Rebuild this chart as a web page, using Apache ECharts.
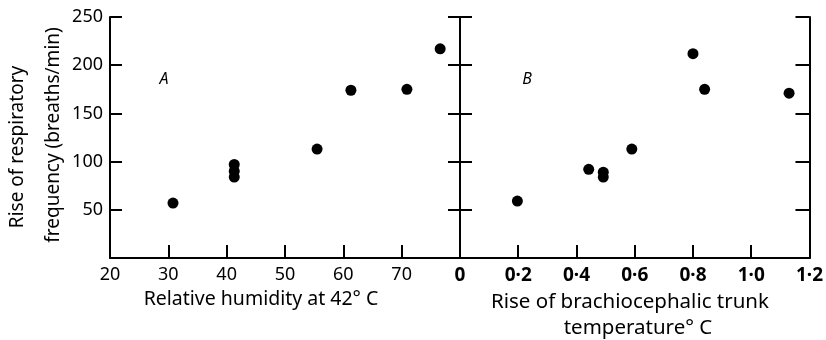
<!DOCTYPE html>
<html>
<head>
<meta charset="utf-8">
<script src="https://cdn.jsdelivr.net/npm/echarts@6/dist/echarts.min.js"></script>
<style>html,body{margin:0;padding:0;background:#fff}#c{width:826px;height:340px}</style>
</head>
<body>
<div id="c"></div>
<script>
// Panel A: relative humidity (%) vs rise of respiratory frequency
const humidityA = [30.8, 41.3, 41.3, 41.3, 55.5, 61.3, 70.9, 76.6];
const rateA     = [57, 97, 90, 84, 113, 174, 175, 217];
// Panel B: rise of brachiocephalic trunk temperature (°C) vs rise of respiratory frequency
const tempB = [0.197, 0.442, 0.492, 0.492, 0.590, 0.800, 0.840, 1.130];
const rateB = [59, 92, 89, 84, 113, 212, 175, 171];

const yMin = 0, yMax = 250, yStep = 50;
const humMin = 20, humMax = 80, humStep = 10;
const tMin = 0, tMax = 1.2, tStep = 0.2;

const FONT = '"Noto Sans"';
const black = '#000';

const chart = echarts.init(document.getElementById('c'), null, {renderer: 'canvas'});

function yAx(grid, pos, showLabel, tickLen) {
  return {
    type: 'value', gridIndex: grid, position: pos,
    min: yMin, max: yMax, interval: yStep,
    axisLine: {show: true, lineStyle: {color: black, width: 2}},
    axisTick: {show: true, inside: true, length: tickLen, lineStyle: {color: black, width: 2}},
    axisLabel: {show: showLabel, margin: 7, color: black, fontSize: 18, fontFamily: FONT,
      formatter: v => v === 0 ? '' : String(v)},
    splitLine: {show: false}
  };
}

const option = {
  animation: false,
  backgroundColor: '#fff',
  grid: [
    {left: 110, top: 17, width: 350, height: 241},
    {left: 460, top: 17, width: 351, height: 241}
  ],
  xAxis: [
    {
      type: 'value', gridIndex: 0, min: humMin, max: humMax, interval: humStep,
      axisLine: {show: true, lineStyle: {color: black, width: 2}},
      axisTick: {show: true, inside: true, length: 13, lineStyle: {color: black, width: 2}},
      axisLabel: {margin: 8, color: black, fontSize: 18, fontFamily: FONT,
        formatter: v => v === humMax ? '' : String(v)},
      splitLine: {show: false}
    },
    {
      type: 'value', gridIndex: 1, min: tMin, max: tMax, interval: tStep,
      axisLine: {show: true, lineStyle: {color: black, width: 2}},
      axisTick: {show: true, inside: true, length: 13, lineStyle: {color: black, width: 2}},
      axisLabel: {margin: 8, color: black, fontSize: 19, fontFamily: FONT, fontWeight: 'bold',
        showMinLabel: true, showMaxLabel: true,
        formatter: v => (Math.abs(v) < 1e-9 ? '0' : v.toFixed(1).replace('.', '\u00B7'))},
      splitLine: {show: false}
    }
  ],
  yAxis: [
    yAx(0, 'left', true, 12),
    yAx(0, 'right', false, 12),
    yAx(1, 'left', false, 12),
    yAx(1, 'right', false, 14)
  ],
  series: [
    {
      type: 'scatter', xAxisIndex: 0, yAxisIndex: 0, symbolSize: 11,
      itemStyle: {color: black, opacity: 1},
      data: humidityA.map((x, i) => [x, rateA[i]])
    },
    {
      type: 'scatter', xAxisIndex: 1, yAxisIndex: 2, symbolSize: 11,
      itemStyle: {color: black, opacity: 1},
      data: tempB.map((x, i) => [x, rateB[i]])
    }
  ],
  graphic: [
    {type: 'text', x: 18, y: 147, rotation: Math.PI / 2,
      style: {text: 'Rise of respiratory', fill: black, font: '19px ' + FONT, align: 'center', verticalAlign: 'middle'}},
    {type: 'text', x: 54, y: 135, rotation: Math.PI / 2,
      style: {text: 'frequency (breaths/min)', fill: black, font: '19px ' + FONT, align: 'center', verticalAlign: 'middle'}},
    {type: 'text', x: 261, y: 299,
      style: {text: 'Relative humidity at 42\u00B0 C', fill: black, font: '19.5px ' + FONT, align: 'center', verticalAlign: 'middle'}},
    {type: 'text', x: 630, y: 302,
      style: {text: 'Rise of brachiocephalic trunk', fill: black, font: '20.5px ' + FONT, align: 'center', verticalAlign: 'middle'}},
    {type: 'text', x: 638, y: 328,
      style: {text: 'temperature\u00B0 C', fill: black, font: '20.5px ' + FONT, align: 'center', verticalAlign: 'middle'}},
    {type: 'text', x: 164, y: 79,
      style: {text: 'A', fill: black, font: 'italic 16px ' + FONT, align: 'center', verticalAlign: 'middle'}},
    {type: 'text', x: 527, y: 79,
      style: {text: 'B', fill: black, font: 'italic 16px ' + FONT, align: 'center', verticalAlign: 'middle'}}
  ]
};
chart.setOption(option);
</script>
</body>
</html>
